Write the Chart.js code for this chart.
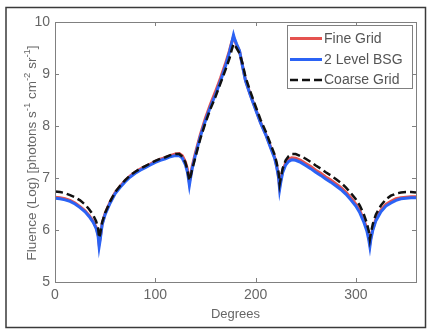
<!DOCTYPE html>
<html>
<head>
<meta charset="utf-8">
<script src="https://cdn.jsdelivr.net/npm/chart.js@4"></script>
<style>
  html, body { margin: 0; padding: 0; background: #fff; }
  #wrap { width: 427px; height: 329px; }
</style>
</head>
<body>
<div id="wrap"><canvas id="chart" width="427" height="329"></canvas></div>
<script>
// angle in degrees
const degrees = [0,5,10,15,20,25,30,34,38,41,43,44,45,47,50,55,60,65,70,75,80,85,90,95,100,105,110,115,120,124,127,130,132,133,134,135,137,140,145,150,155,160,165,170,174,176,178,179,181,184,187,190,195,200,205,210,215,219,221,223,224,225,227,230,233,236,240,245,250,255,260,265,270,275,280,285,290,295,300,304,308,311,313,314,315,317,320,325,330,335,340,345,350,355,360];

const bsg = [6.61,6.60,6.58,6.55,6.50,6.43,6.35,6.26,6.15,6.03,5.88,5.68,5.80,6.10,6.30,6.52,6.70,6.82,6.93,7.02,7.09,7.15,7.20,7.25,7.30,7.34,7.37,7.41,7.43,7.43,7.38,7.26,7.12,7.00,6.86,6.98,7.20,7.44,7.80,8.10,8.37,8.60,8.86,9.15,9.42,9.58,9.75,9.68,9.58,9.45,9.15,8.87,8.58,8.32,8.06,7.84,7.58,7.38,7.22,7.00,6.78,6.90,7.10,7.25,7.32,7.35,7.34,7.30,7.24,7.18,7.11,7.05,6.98,6.92,6.85,6.78,6.69,6.58,6.46,6.33,6.15,5.98,5.80,5.68,5.82,6.00,6.18,6.35,6.46,6.52,6.57,6.60,6.61,6.62,6.62];

const fine = [6.63,6.62,6.60,6.57,6.52,6.45,6.37,6.28,6.17,6.05,5.92,5.74,5.84,6.12,6.32,6.54,6.72,6.84,6.95,7.04,7.11,7.17,7.22,7.27,7.32,7.36,7.39,7.43,7.46,7.47,7.43,7.31,7.17,7.05,6.92,7.03,7.24,7.48,7.84,8.15,8.42,8.66,8.92,9.20,9.45,9.60,9.72,9.66,9.56,9.44,9.16,8.88,8.59,8.33,8.07,7.85,7.60,7.40,7.24,7.03,6.84,6.95,7.14,7.29,7.36,7.39,7.38,7.34,7.28,7.22,7.15,7.09,7.02,6.96,6.89,6.82,6.73,6.62,6.50,6.37,6.19,6.03,5.86,5.74,5.86,6.03,6.21,6.38,6.49,6.55,6.60,6.62,6.63,6.64,6.64];

const coarse = [6.74,6.73,6.71,6.67,6.63,6.57,6.49,6.40,6.29,6.17,6.03,5.85,5.92,6.15,6.33,6.55,6.73,6.85,6.96,7.05,7.12,7.18,7.23,7.28,7.33,7.37,7.40,7.44,7.46,7.46,7.41,7.30,7.16,7.05,6.95,7.02,7.18,7.40,7.76,8.06,8.33,8.56,8.82,9.08,9.30,9.45,9.58,9.56,9.50,9.40,9.20,8.94,8.65,8.38,8.12,7.90,7.65,7.45,7.30,7.10,6.88,6.98,7.18,7.34,7.42,7.46,7.46,7.42,7.37,7.31,7.24,7.18,7.11,7.05,6.98,6.91,6.82,6.71,6.59,6.47,6.30,6.13,5.97,5.82,5.94,6.12,6.30,6.47,6.59,6.66,6.70,6.72,6.73,6.73,6.72];

const xTicks = [0, 100, 200, 300];
const yTicks = [5, 6, 7, 8, 9, 10];

const FONT = "'Liberation Sans', Arial, Helvetica, sans-serif";
const GRAY = "#666";
const AXIS = "#808080";

const pts = (ys) => degrees.map((d, i) => ({ x: d, y: ys[i] }));

// frame, inward ticks, axis titles and legend (MATLAB look)
const matlabLook = {
  id: "matlabLook",
  beforeDraw(chart) {
    const ctx = chart.ctx;
    ctx.save();
    ctx.fillStyle = "#fff";
    ctx.fillRect(0, 0, chart.width, chart.height);
    ctx.strokeStyle = "#3a3a3a";
    ctx.lineWidth = 1.5;
    ctx.strokeRect(6, 7.5, 419.5, 320);
    ctx.restore();
  },
  afterDraw(chart) {
    const ctx = chart.ctx;
    const a = chart.chartArea;
    const xs = chart.scales.x, ys = chart.scales.y;
    ctx.save();
    ctx.strokeStyle = AXIS;
    ctx.lineWidth = 1;
    ctx.strokeRect(a.left + 0.5, a.top + 0.5, a.right - a.left, a.bottom - a.top);
    ctx.beginPath();
    xTicks.forEach(v => {
      const px = Math.round(xs.getPixelForValue(v)) + 0.5;
      ctx.moveTo(px, a.bottom); ctx.lineTo(px, a.bottom - 4);
      ctx.moveTo(px, a.top); ctx.lineTo(px, a.top + 4);
    });
    yTicks.forEach(v => {
      const py = Math.round(ys.getPixelForValue(v)) + 0.5;
      ctx.moveTo(a.left, py); ctx.lineTo(a.left + 4, py);
      ctx.moveTo(a.right, py); ctx.lineTo(a.right - 4, py);
    });
    ctx.stroke();

    // x title
    ctx.fillStyle = GRAY;
    ctx.font = "13px " + FONT;
    ctx.textAlign = "center";
    ctx.textBaseline = "middle";
    ctx.fillText("Degrees", (a.left + a.right) / 2, 314);

    // y title with superscripts
    const parts = [
      ["Fluence (Log) [photons s", false], ["-1", true], [" cm", false],
      ["-2", true], [" sr", false], ["-1", true], ["]", false]
    ];
    const big = "13.5px " + FONT, small = "9.5px " + FONT;
    let total = 0;
    parts.forEach(p => { ctx.font = p[1] ? small : big; total += ctx.measureText(p[0]).width; });
    ctx.translate(32, (a.top + a.bottom) / 2 + 1);
    ctx.rotate(-Math.PI / 2);
    ctx.textAlign = "left";
    ctx.textBaseline = "middle";
    let cx = -total / 2;
    parts.forEach(p => {
      ctx.font = p[1] ? small : big;
      ctx.fillText(p[0], cx, p[1] ? -5 : 0);
      cx += ctx.measureText(p[0]).width;
    });
    ctx.restore();

    // legend box
    ctx.save();
    ctx.fillStyle = "#fff";
    ctx.fillRect(287, 25, 126, 64);
    ctx.strokeStyle = AXIS;
    ctx.lineWidth = 1;
    ctx.strokeRect(287.5, 25.5, 125, 63);
    const rows = [38.5, 59.5, 80];
    chart.data.datasets.forEach((ds, i) => {
      const y = rows[i];
      ctx.beginPath();
      ctx.strokeStyle = ds.borderColor;
      ctx.lineWidth = ds.borderWidth;
      ctx.setLineDash(ds.borderDash || []);
      ctx.moveTo(290, y); ctx.lineTo(322, y);
      ctx.stroke();
      ctx.setLineDash([]);
      ctx.fillStyle = "#555";
      ctx.font = "14px " + FONT;
      ctx.textAlign = "left";
      ctx.textBaseline = "middle";
      ctx.fillText(ds.label, 324, y + 0.5);
    });
    ctx.restore();
  }
};

new Chart(document.getElementById("chart"), {
  type: "line",
  data: {
    datasets: [
      { label: "Fine Grid", data: pts(fine), borderColor: "#e5524f", borderWidth: 3, order: 3 },
      { label: "2 Level BSG", data: pts(bsg), borderColor: "#2b63f5", borderWidth: 3, order: 2 },
      { label: "Coarse Grid", data: pts(coarse), borderColor: "#111", borderWidth: 2.5, borderDash: [8, 4], order: 1 }
    ]
  },
  options: {
    responsive: false,
    animation: false,
    devicePixelRatio: 1,
    layout: { padding: { top: 22, right: 11, left: 0, bottom: 0 } },
    elements: { point: { radius: 0 }, line: { tension: 0, fill: false } },
    plugins: { legend: { display: false }, tooltip: { enabled: false } },
    scales: {
      x: {
        type: "linear",
        min: 0, max: 360,
        afterFit: s => { s.height = 47; },
        grid: { display: false, drawTicks: false },
        border: { display: false },
        ticks: {
          stepSize: 100, includeBounds: false, padding: 5, maxRotation: 0,
          color: GRAY, font: { family: FONT, size: 14 }
        }
      },
      y: {
        min: 5, max: 10,
        afterFit: s => { s.width = 55; },
        grid: { display: false, drawTicks: false },
        border: { display: false },
        ticks: {
          stepSize: 1, padding: 5,
          color: GRAY, font: { family: FONT, size: 14 }
        }
      }
    }
  },
  plugins: [matlabLook]
});
</script>
</body>
</html>
